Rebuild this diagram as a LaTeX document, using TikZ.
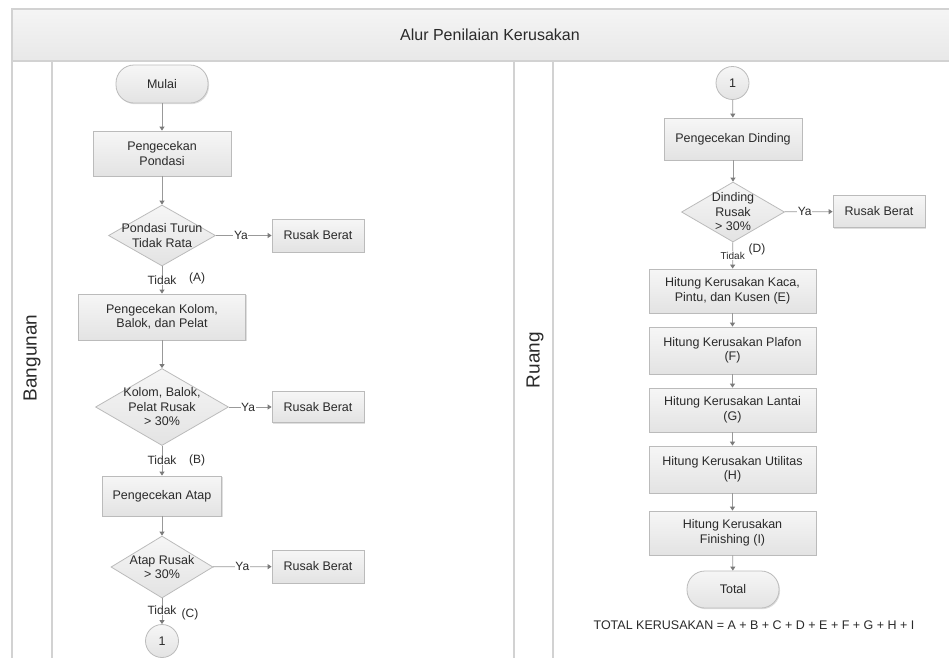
\documentclass[tikz,border=0pt]{standalone}
\usepackage{fontspec}
\setmainfont{Liberation Sans}
\usetikzlibrary{shapes.geometric,arrows.meta,shadows}
\definecolor{bordc}{HTML}{BBBBBB}
\definecolor{topc}{HTML}{F6F6F6}
\definecolor{botc}{HTML}{E3E3E3}
\definecolor{txtc}{HTML}{2A2A2A}
\definecolor{linec}{HTML}{999999}
\definecolor{tipc}{HTML}{7A7A7A}
\definecolor{lanec}{HTML}{D2D2D2}
\begin{document}
\begin{tikzpicture}[x=1pt,y=-1pt,
  nf/.style={font=\fontsize{12.5}{14.5}\selectfont, text=txtc},
  boxs/.style={nf, draw=bordc, line width=0.8pt, top color=topc, bottom color=botc,
     align=center, inner sep=0pt,
     drop shadow={shadow xshift=1pt, shadow yshift=-1.2pt, opacity=0.25, fill=gray}},
  term/.style={boxs, rounded corners=18pt},
  dec/.style={draw=bordc, line width=0.8pt, top color=topc, bottom color=botc,
     diamond, inner sep=0pt},
  dectext/.style={nf, align=center},
  conn/.style={nf, draw=bordc, line width=0.8pt, top color=topc, bottom color=botc, circle, inner sep=0pt, minimum size=33pt},
  arr/.style={draw=linec, line width=0.8pt, -{Triangle[width=5pt,length=4pt,fill=tipc,color=tipc]}},
  lbl/.style={nf, font=\fontsize{12}{14}\selectfont, fill=white, inner sep=0.6pt},
]
\useasboundingbox (0,0) rectangle (949,657);
% frame and title band
\draw[lanec, line width=1.2pt, top color=white!96!black, bottom color=white!91!black] (12,9) rectangle (965,61);
\draw[lanec, line width=1.2pt] (12,61) -- (12,670) (52,61) -- (52,670) (514,61) -- (514,670) (553,61) -- (553,670);
\node[text=txtc, font=\fontsize{16}{18}\selectfont] (title) at (490,35) {Alur Penilaian Kerusakan};
\node[text=txtc, font=\fontsize{19}{21}\selectfont, rotate=90] (lane1) at (32,358) {Bangunan};
\node[text=txtc, font=\fontsize{19}{21}\selectfont, rotate=90] (lane2) at (535,360) {Ruang};

% left lane
\node[term, minimum width=92pt, minimum height=38pt] (m) at (162,84) {Mulai};
\node[boxs, minimum width=138pt, minimum height=45pt] (p1) at (162,153.5) {Pengecekan\\Pondasi};
\node[dec, minimum width=107pt, minimum height=61pt] (d1) at (162,235.5) {};
\node[dectext] (d1t) at (162,235.5) {Pondasi Turun\\Tidak Rata};
\node[boxs, minimum width=92pt, minimum height=33pt] (r1) at (318,235.5) {Rusak Berat};
\node[boxs, minimum width=167pt, minimum height=46pt] (p2) at (162,317) {Pengecekan Kolom,\\Balok, dan Pelat};
\node[dec, minimum width=133pt, minimum height=77pt] (d2) at (162,407) {};
\node[dectext] (d2t) at (162,407) {Kolom, Balok,\\Pelat Rusak\\> 30\%};
\node[boxs, minimum width=92pt, minimum height=31pt] (r2) at (318,407) {Rusak Berat};
\node[boxs, minimum width=119pt, minimum height=40pt] (p3) at (162,496) {Pengecekan Atap};
\node[dec, minimum width=102pt, minimum height=62pt] (d3) at (162,567) {};
\node[dectext] (d3t) at (162,567) {Atap Rusak\\> 30\%};
\node[boxs, minimum width=92pt, minimum height=33pt] (r3) at (318,566.5) {Rusak Berat};
\node[conn] (c1) at (162,641) {1};

\draw[arr] (m) -- (p1);
\draw[arr] (p1) -- (d1);
\draw[arr] (d1) -- node[lbl, pos=0.45] (ya1) {Ya} (r1);
\draw[arr] (d1) -- node[lbl, pos=0.5] (t1) {Tidak} (p2);
\node[nf, font=\fontsize{12}{14}\selectfont] (la) at (197,278) {(A)};
\draw[arr] (p2) -- (d2);
\draw[arr] (d2) -- node[lbl, pos=0.45] (ya2) {Ya} (r2);
\draw[arr] (d2) -- node[lbl, pos=0.48] (t2) {Tidak} (p3);
\node[nf, font=\fontsize{12}{14}\selectfont] (lb) at (197,460) {(B)};
\draw[arr] (p3) -- (d3);
\draw[arr] (d3) -- node[lbl, pos=0.5] (ya3) {Ya} (r3);
\draw[arr] (d3) -- node[lbl, pos=0.45] (t3) {Tidak} (c1);
\node[nf, font=\fontsize{12}{14}\selectfont] (lc) at (190,614) {(C)};

% right lane
\node[conn] (c2) at (732.5,83) {1};
\node[boxs, minimum width=138pt, minimum height=42pt] (q1) at (733,139) {Pengecekan Dinding};
\node[dec, minimum width=103pt, minimum height=60pt] (d4) at (733,212) {};
\node[dectext] (d4t) at (733,212) {Dinding\\Rusak\\> 30\%};
\node[boxs, minimum width=92pt, minimum height=32pt] (r4) at (879,211.5) {Rusak Berat};
\node[boxs, minimum width=167pt, minimum height=44pt] (h1) at (732.5,291) {Hitung Kerusakan Kaca,\\Pintu, dan Kusen (E)};
\node[boxs, minimum width=167pt, minimum height=47pt] (h2) at (732.5,350.5) {Hitung Kerusakan Plafon\\(F)};
\node[boxs, minimum width=167pt, minimum height=44pt] (h3) at (732.5,410) {Hitung Kerusakan Lantai\\(G)};
\node[boxs, minimum width=167pt, minimum height=47pt] (h4) at (732.5,469.5) {Hitung Kerusakan Utilitas\\(H)};
\node[boxs, minimum width=167pt, minimum height=44pt] (h5) at (732.5,533) {Hitung Kerusakan\\Finishing (I)};
\node[term, minimum width=92pt, minimum height=37pt] (tot) at (733,589.5) {Total};
\node[nf] (formula) at (754,625) {TOTAL KERUSAKAN = A + B + C + D + E + F + G + H + I};

\draw[arr] (c2) -- (q1);
\draw[arr] (q1) -- (d4);
\draw[arr] (d4) -- node[lbl, pos=0.42] (ya4) {Ya} (r4);
\draw[arr] (d4) -- node[lbl, font=\fontsize{10}{12}\selectfont, pos=0.5] (t4) {Tidak} (h1);
\node[nf, font=\fontsize{12}{14}\selectfont] (ld) at (757,249) {(D)};
\draw[arr] (h1) -- (h2);
\draw[arr] (h2) -- (h3);
\draw[arr] (h3) -- (h4);
\draw[arr] (h4) -- (h5);
\draw[arr] (h5) -- (tot);
\end{tikzpicture}
\end{document}
